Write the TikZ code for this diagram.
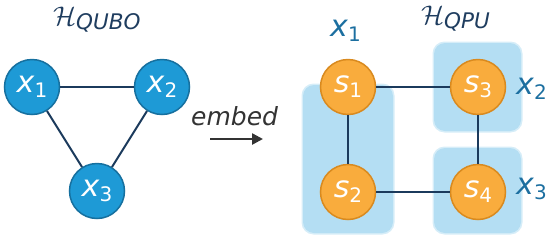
\documentclass[tikz,border=0pt]{standalone}
\usepackage{fontspec}
\setmainfont{DejaVu Sans}
\setsansfont{DejaVu Sans}
\usetikzlibrary{arrows.meta}
\definecolor{qblue}{HTML}{1E9AD6}
\definecolor{qblueb}{HTML}{16709F}
\definecolor{qorange}{HTML}{F9AC3D}
\definecolor{qorangeb}{HTML}{D98A1F}
\definecolor{qbox}{HTML}{B4DEF3}
\definecolor{qedge}{HTML}{1B3A5C}
\definecolor{qlab}{HTML}{1C6FA0}
\definecolor{qtitle}{HTML}{1F3D5F}
\definecolor{qgray}{HTML}{333333}
\newcommand\vlab[2]{\textit{#1}\raisebox{-5pt}{\fontsize{20}{20}\selectfont #2}}
\newcommand\htitle[1]{\scalebox{1.3}{$\mathcal{H}$}\raisebox{-4.5pt}{#1}}
\tikzset{
  qnode/.style={circle, minimum size=55pt, inner sep=0pt, line width=1.5pt, text=white, font=\fontsize{30}{30}\selectfont},
  bnode/.style={qnode, fill=qblue, draw=qblueb},
  onode/.style={qnode, fill=qorange, draw=qorangeb},
  qline/.style={draw=qedge, line width=2pt},
  qgroup/.style={fill=qbox, rounded corners=11pt},
  qsoft/.style={fill=qbox!55, rounded corners=12pt},
  olab/.style={text=qlab, font=\fontsize{30}{30}\selectfont, inner sep=0pt, anchor=base west},
  ttl/.style={text=qtitle, inner sep=0pt, anchor=base west, font=\fontsize{21.5}{21.5}\selectfont\itshape}
}
\begin{document}
\begin{tikzpicture}[x=1pt,y=-1pt]
\useasboundingbox (0,0) rectangle (550,242);
% groups (soft edge + body)
\fill[qsoft] (301.5,83.5) rectangle (394.5,234.5);
\fill[qsoft] (432.5,41.5) rectangle (522.5,132.5);
\fill[qsoft] (432.5,146.5) rectangle (522.5,234.5);
\fill[qgroup] (303,85) rectangle (393,233);
\fill[qgroup] (434,43) rectangle (521,131);
\fill[qgroup] (434,148) rectangle (521,233);
% left graph
\node[bnode] (x1) at (32,87) {\vlab{x}{1}};
\node[bnode] (x2) at (162,87) {\vlab{x}{2}};
\node[bnode] (x3) at (97,191) {\vlab{x}{3}};
\draw[qline] (x1) -- (x2);
\draw[qline] (x1) -- (x3);
\draw[qline] (x2) -- (x3);
\node[ttl] (t1) at (53,25) {\htitle{QUBO}};
% arrow
\node[text=qgray, inner sep=0pt, anchor=base west, font=\fontsize{25}{25}\selectfont\itshape] (emb) at (191,125) {embed};
\coordinate (a1) at (210,139);
\coordinate (a2) at (263,139);
\draw[draw=qgray, line width=2.5pt, -{Triangle[length=11pt,width=11pt]}] (a1) -- (a2);
% right graph
\node[onode] (s1) at (348,87) {\vlab{s}{1}};
\node[onode] (s3) at (478,87) {\vlab{s}{3}};
\node[onode] (s2) at (348,192) {\vlab{s}{2}};
\node[onode] (s4) at (478,192) {\vlab{s}{4}};
\draw[qline] (s1) -- (s3);
\draw[qline] (s1) -- (s2);
\draw[qline] (s3) -- (s4);
\draw[qline] (s2) -- (s4);
\node[ttl] (t2) at (421,24) {\htitle{QPU}};
\node[olab] (l1) at (330,36) {\vlab{x}{1}};
\node[olab] (l2) at (516,94) {\vlab{x}{2}};
\node[olab] (l3) at (516,194) {\vlab{x}{3}};
\end{tikzpicture}
\end{document}
